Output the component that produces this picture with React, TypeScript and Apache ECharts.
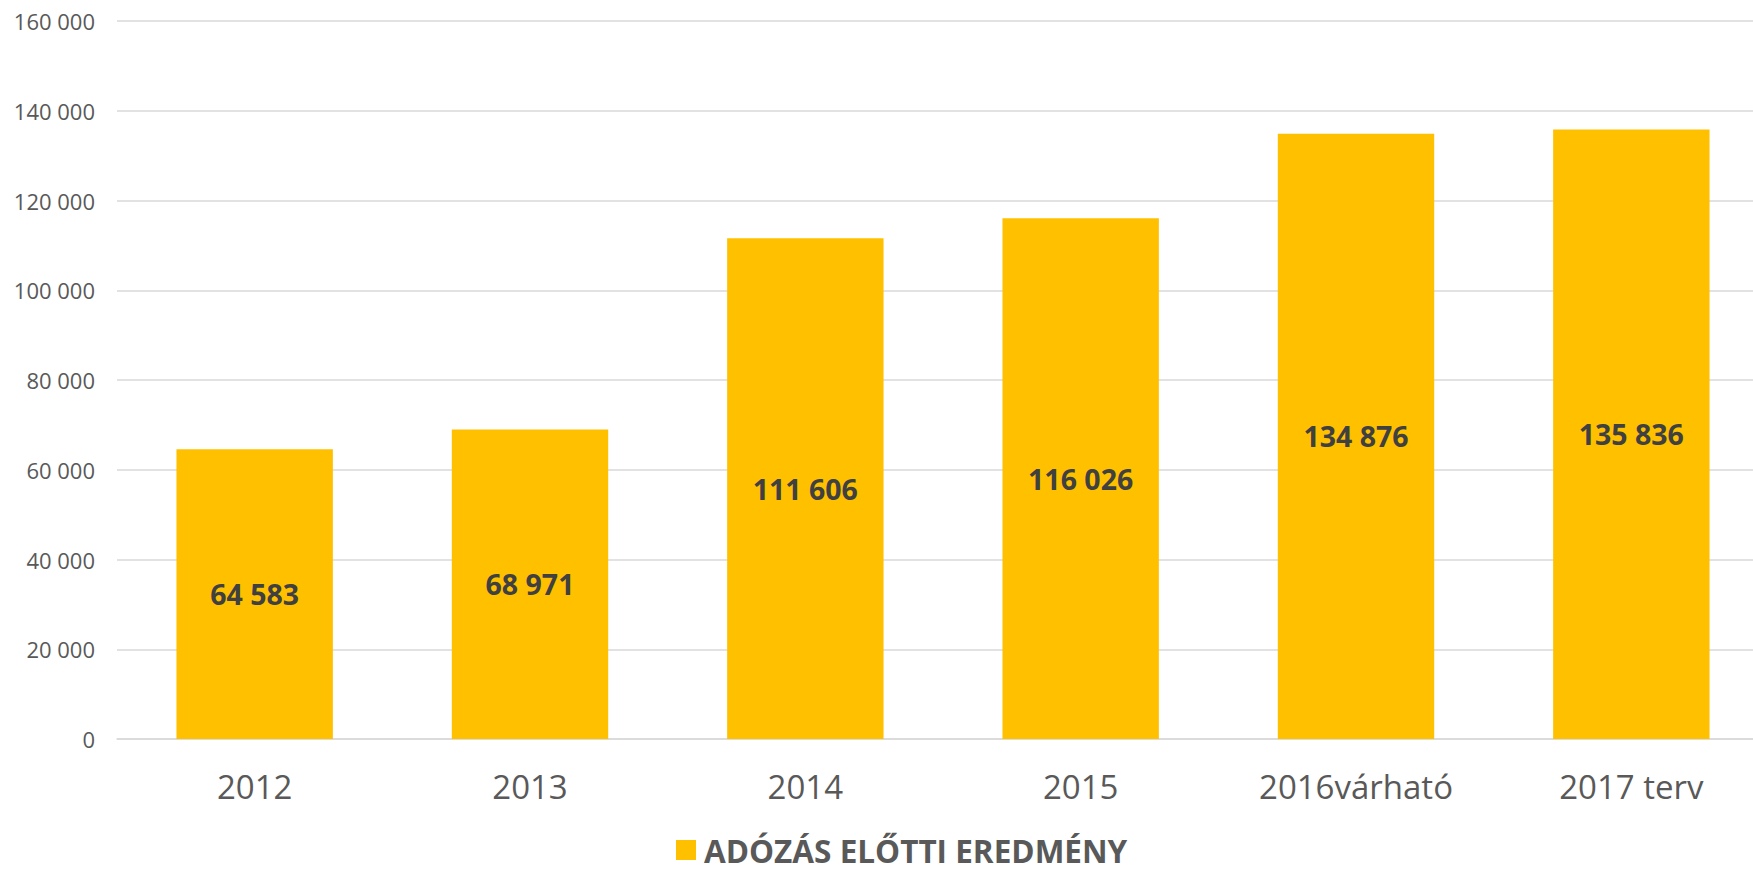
import React, { useEffect, useRef } from "react";
import * as echarts from "echarts";

const categories = ["2012", "2013", "2014", "2015", "2016várható", "2017 terv"];
const values = [64583, 68971, 111606, 116026, 134876, 135836];
const seriesName = "ADÓZÁS ELŐTTI EREDMÉNY";
const yMax = 160000;
const yInterval = 20000;

const fmt = (v: number) => String(v).replace(/\B(?=(\d{3})+(?!\d))/g, " ");

export default function App() {
  const ref = useRef<HTMLDivElement>(null);
  useEffect(() => {
    if (!ref.current) return;
    const chart = echarts.init(ref.current, undefined, { renderer: "svg" });
    chart.setOption({
      animation: false,
      textStyle: { fontFamily: "Open Sans" },
      grid: { left: 117, width: 1652, top: 21, bottom: 133, containLabel: false, outerBoundsMode: "none" },
      legend: {
        data: [seriesName],
        left: 676,
        top: 834,
        padding: 0,
        itemWidth: 20,
        itemHeight: 20,
        itemGap: 8,
        icon: "rect",
        textStyle: {
          fontSize: 31.5,
          lineHeight: 32,
          fontWeight: "bold",
          color: "#595959",
          fontFamily: "Open Sans",
          padding: [0, 0, 0, 3],
        },
      },
      xAxis: {
        type: "category",
        data: categories,
        axisTick: { show: false },
        axisLine: { lineStyle: { color: "#d9d9d9", width: 1.5 } },
        axisLabel: { color: "#595959", fontSize: 33, margin: 31 },
      },
      yAxis: {
        type: "value",
        min: 0,
        max: yMax,
        interval: yInterval,
        axisLine: { show: false },
        axisTick: { show: false },
        splitLine: { lineStyle: { color: "#d9d9d9", width: 1.5 } },
        axisLabel: { color: "#595959", fontSize: 22, margin: 22, formatter: (v: number) => fmt(v) },
      },
      series: [
        {
          name: seriesName,
          type: "bar",
          data: values,
          barWidth: "56.8%",
          itemStyle: { color: "#FFC000" },
          label: {
            show: true,
            position: "inside",
            color: "#404040",
            fontSize: 28.5,
            fontWeight: "bold",
            formatter: (p: any) => fmt(p.value),
          },
        },
      ],
    });
    return () => chart.dispose();
  }, []);
  return <div ref={ref} style={{ width: 1753, height: 872, position: "absolute", left: 0, top: 0 }} />;
}
